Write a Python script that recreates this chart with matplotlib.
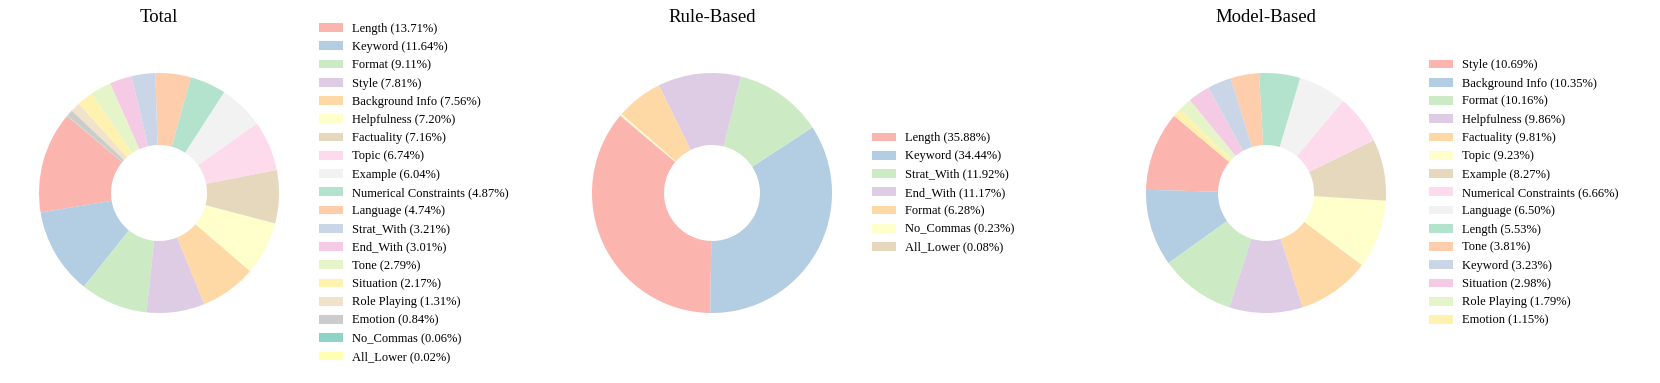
import matplotlib
matplotlib.use("Agg")
import matplotlib.pyplot as plt

plt.rcParams['font.family'] = ['Liberation Serif', 'DejaVu Serif']

# data
total_names = ['Length', 'Keyword', 'Format', 'Style', 'Background Info', 'Helpfulness',
               'Factuality', 'Topic', 'Example', 'Numerical Constraints', 'Language',
               'Strat_With', 'End_With', 'Tone', 'Situation', 'Role Playing', 'Emotion',
               'No_Commas', 'All_Lower']
total_vals = [13.71, 11.64, 9.11, 7.81, 7.56, 7.20, 7.16, 6.74, 6.04, 4.87, 4.74,
              3.21, 3.01, 2.79, 2.17, 1.31, 0.84, 0.06, 0.02]

rule_names = ['Length', 'Keyword', 'Strat_With', 'End_With', 'Format', 'No_Commas', 'All_Lower']
rule_vals = [35.88, 34.44, 11.92, 11.17, 6.28, 0.23, 0.08]

model_names = ['Style', 'Background Info', 'Format', 'Helpfulness', 'Factuality', 'Topic',
               'Example', 'Numerical Constraints', 'Language', 'Length', 'Tone', 'Keyword',
               'Situation', 'Role Playing', 'Emotion']
model_vals = [10.69, 10.35, 10.16, 9.86, 9.81, 9.23, 8.27, 6.66, 6.50, 5.53, 3.81,
              3.23, 2.98, 1.79, 1.15]

colors = (list(plt.cm.Pastel1.colors) + list(plt.cm.Pastel2.colors)
          + list(plt.cm.Set3.colors))

W, H = 1660, 383
fig = plt.figure(figsize=(W / 100, H / 100), dpi=100)

panels = [
    ('Total', total_names, total_vals, 159, 319),
    ('Rule-Based', rule_names, rule_vals, 712, 872),
    ('Model-Based', model_names, model_vals, 1266, 1429),
]
cy, r = 193, 120

for title, names, vals, cx, lx in panels:
    ax = fig.add_axes([(cx - r) / W, (H - cy - r) / H, 2 * r / W, 2 * r / H])
    ax.pie(vals, colors=colors[:len(vals)], startangle=140, counterclock=True,
           wedgeprops=dict(width=0.6, linewidth=0))
    ax.set_xlim(-1, 1)
    ax.set_ylim(-1, 1)
    ax.set_aspect('equal')
    fig.text(cx / W, 1 - 18 / H, title, ha='center', va='center', fontsize=13.5)
    labels = [f'{n} ({v:.2f}%)' for n, v in zip(names, vals)]
    fig.legend(ax.patches, labels, loc='center left',
               bbox_to_anchor=(lx / W, 1 - cy / H), frameon=False,
               fontsize=9, borderpad=0, borderaxespad=0,
               handlelength=1.9, handleheight=0.7, handletextpad=0.75,
               labelspacing=0.5)

fig.savefig('out.png', dpi=100)
